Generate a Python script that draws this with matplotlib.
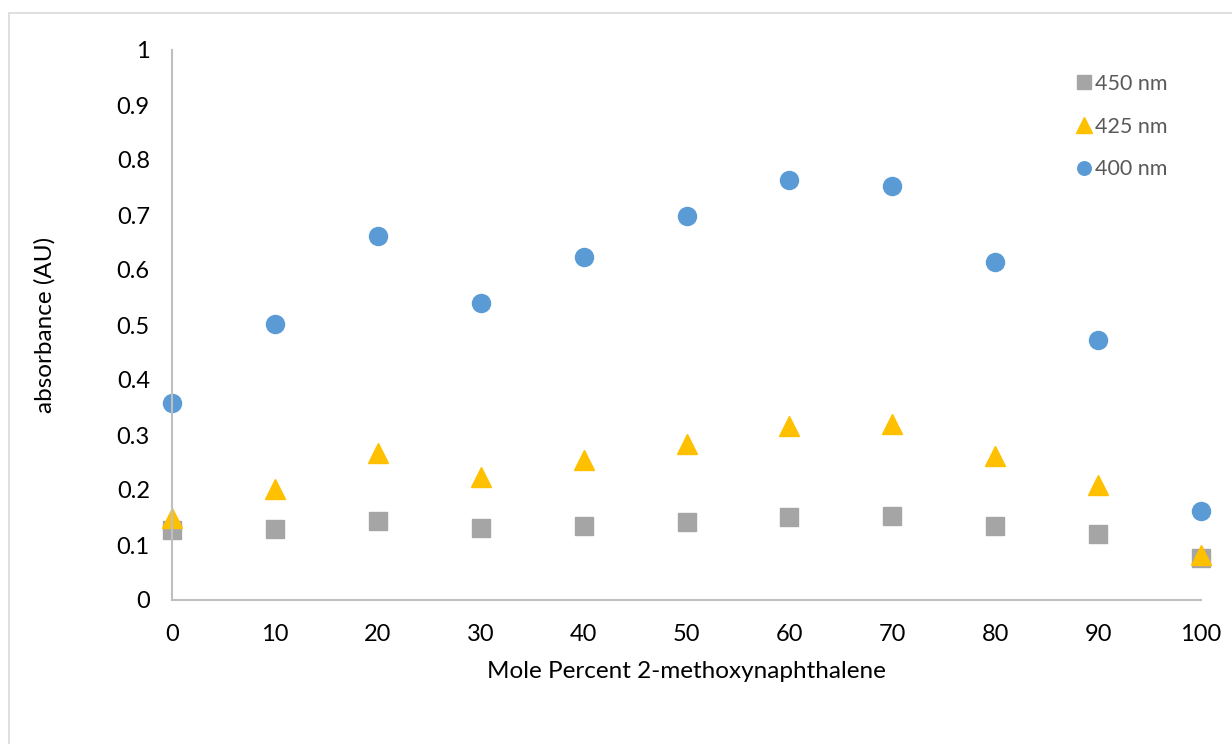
import matplotlib
matplotlib.use("Agg")
import matplotlib.pyplot as plt
from matplotlib.patches import Rectangle

plt.rcParams['font.family'] = ['Lato', 'DejaVu Sans']

mole_percent = [0, 10, 20, 30, 40, 50, 60, 70, 80, 90, 100]
abs_450 = [0.127, 0.129, 0.144, 0.131, 0.135, 0.142, 0.151, 0.153, 0.135, 0.120, 0.076]
abs_425 = [0.149, 0.202, 0.267, 0.224, 0.255, 0.284, 0.316, 0.320, 0.262, 0.209, 0.082]
abs_400 = [0.358, 0.502, 0.662, 0.540, 0.624, 0.698, 0.764, 0.753, 0.615, 0.473, 0.162]

x_ticks = [0, 10, 20, 30, 40, 50, 60, 70, 80, 90, 100]
y_ticks = [0, 0.1, 0.2, 0.3, 0.4, 0.5, 0.6, 0.7, 0.8, 0.9, 1]
y_tick_labels = ['0', '0.1', '0.2', '0.3', '0.4', '0.5', '0.6', '0.7', '0.8', '0.9', '1']

W, H = 1232, 744
fig = plt.figure(figsize=(W / 100, H / 100), dpi=100)

# light chart-area frame
fig.patches.append(Rectangle((9 / W, -0.1), 1.2, (H - 13) / H + 0.1,
                             transform=fig.transFigure, fill=False,
                             edgecolor='#d9d9d9', linewidth=1.2))

ax = fig.add_axes([172 / W, 1 - 600 / H, (1201 - 172) / W, 550 / H])

ax.plot(mole_percent, abs_450, linestyle='none', marker='s', ms=13.5,
        color='#A5A5A5', label='450 nm')
ax.plot(mole_percent, abs_425, linestyle='none', marker='^', ms=14.5,
        color='#FFC000', label='425 nm')
ax.plot(mole_percent, abs_400, linestyle='none', marker='o', ms=13,
        color='#5B9BD5', label='400 nm')

ax.set_xlim(0, 100)
ax.set_ylim(0, 1)
ax.set_xticks(x_ticks)
ax.set_yticks(y_ticks)
ax.set_yticklabels(y_tick_labels)
ax.tick_params(length=0, labelsize=17, colors='#000000')
ax.tick_params(axis='y', pad=16)
ax.tick_params(axis='x', pad=17)

for side in ['top', 'right']:
    ax.spines[side].set_visible(False)
for side in ['left', 'bottom']:
    ax.spines[side].set_color('#bfbfbf')
    ax.spines[side].set_linewidth(1.5)

for coll in ax.lines:
    coll.set_clip_on(False)

ax.set_xlabel('Mole Percent 2-methoxynaphthalene', fontsize=17.5, labelpad=12)
ax.set_ylabel('absorbance (AU)', fontsize=17.5, labelpad=44)

leg = ax.legend(loc='upper left', bbox_to_anchor=(1075 / W, 1 - 74 / H),
                bbox_transform=fig.transFigure, frameon=False, fontsize=15.5,
                handletextpad=0.15, labelspacing=1.05, markerscale=0.75,
                handlelength=0.8, borderpad=0, borderaxespad=0,
                labelcolor='#595959')

fig.savefig('out.png', dpi=100)
